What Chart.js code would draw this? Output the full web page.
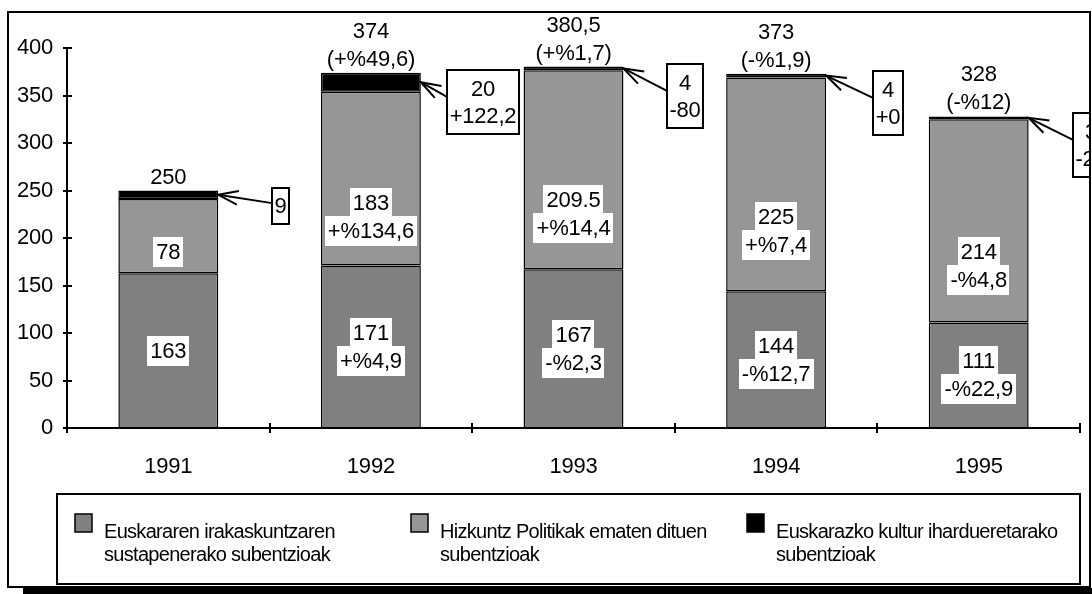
<!DOCTYPE html>
<html><head><meta charset="utf-8">
<script src="https://cdn.jsdelivr.net/npm/chart.js@4/dist/chart.umd.min.js"></script>
<style>html,body{margin:0;padding:0;background:#fff;overflow:hidden}canvas{display:block}</style>
</head><body>
<canvas id="c" width="1092" height="594"></canvas>
<script>
// ---- data ----
const years = ['1991', '1992', '1993', '1994', '1995'];
const irakaskuntza = [163, 171, 167, 144, 111];
const politika = [78, 183, 209.5, 225, 214];
const kultura = [9, 20, 4, 4, 3];
const totals = [250, 374, 380.5, 373, 328];
const irakaskuntzaChange = ['', '+%4,9', '-%2,3', '-%12,7', '-%22,9'];
const politikaChange = ['', '+%134,6', '+%14,4', '+%7,4', '-%4,8'];
const kulturaChange = ['', '+122,2', '-80', '+0', '-25'];
const totalChange = ['', '(+%49,6)', '(+%1,7)', '(-%1,9)', '(-%12)'];
const totalText = ['250', '374', '380,5', '373', '328'];
const seriesNames = [
  ['Euskararen irakaskuntzaren', 'sustapenerako subentzioak'],
  ['Hizkuntz Politikak ematen dituen', 'subentzioak'],
  ['Euskarazko kultur ihardueretarako', 'subentzioak']
];
const yMin = 0, yMax = 400, yStep = 50;

const COLORS = ['#808080', '#969696', '#000000'];
const FAM = '"Liberation Sans", Arial, sans-serif';
const FONT = '22px ' + FAM;

function setLS(ctx, v) { if ('letterSpacing' in ctx) ctx.letterSpacing = v; }

function drawLabelLines(ctx, lines, cx, cy, lh, bg) {
  const n = lines.length;
  ctx.font = FONT;
  ctx.textAlign = 'center';
  ctx.textBaseline = 'middle';
  const ys = lines.map((t, k) => cy + (k - (n - 1) / 2) * lh);
  if (bg) {
    ctx.fillStyle = '#fff';
    lines.forEach((t, k) => {
      const w = ctx.measureText(t).width;
      ctx.fillRect(Math.round(cx - w / 2 - 3), Math.round(ys[k] - 15), Math.round(w + 6), 30);
    });
  }
  ctx.fillStyle = '#000';
  lines.forEach((t, k) => ctx.fillText(t, cx, ys[k] + 1));
}

const decorPlugin = {
  id: 'decor',
  beforeDraw(chart) {
    const ctx = chart.ctx;
    setLS(ctx, '-0.2px');
    ctx.save();
    ctx.fillStyle = '#fff';
    ctx.fillRect(0, 0, chart.width, chart.height);
    ctx.restore();
  },
  afterDraw(chart) {
    const ctx = chart.ctx;
    const xs = chart.scales.x, ys = chart.scales.y;
    ctx.save();
    ctx.strokeStyle = '#000';
    ctx.lineWidth = 2;
    // y ticks crossing the axis
    const ax = xs.left;
    for (let v = yMin; v <= yMax; v += yStep) {
      const py = Math.round(ys.getPixelForValue(v));
      ctx.beginPath(); ctx.moveTo(ax - 4, py); ctx.lineTo(ax + 5, py); ctx.stroke();
    }
    // x ticks at category boundaries
    const ay = ys.bottom;
    for (let i = 0; i <= years.length; i++) {
      const px = Math.round(xs.getPixelForValue(i - 0.5));
      ctx.beginPath(); ctx.moveTo(px, ay - 5); ctx.lineTo(px, ay + 5); ctx.stroke();
    }

    // segment labels
    const m0 = chart.getDatasetMeta(0), m2 = chart.getDatasetMeta(2);
    for (let i = 0; i < years.length; i++) {
      const b0 = m0.data[i].getProps(['x', 'y', 'base'], true);
      const l0 = irakaskuntzaChange[i] ? [String(irakaskuntza[i]), irakaskuntzaChange[i]] : [String(irakaskuntza[i])];
      drawLabelLines(ctx, l0, b0.x, (b0.y + b0.base) / 2, 28, true);
      const l1 = politikaChange[i] ? [String(politika[i]), politikaChange[i]] : [String(politika[i])];
      const y1 = ys.getPixelForValue(irakaskuntza[i] + 0.28 * politika[i]);
      drawLabelLines(ctx, l1, b0.x, y1, 28, true);
      // totals above
      const b2 = m2.data[i].getProps(['x', 'y', 'base', 'width'], true);
      const lt = totalChange[i] ? [totalText[i], totalChange[i]] : [totalText[i]];
      const lastY = ys.getPixelForValue(totals[i]) - 14;
      drawLabelLines(ctx, lt, b2.x, lastY - (lt.length - 1) * 28 / 2, 28, false);
    }

    // callouts for the black series (clipped by outer frame)
    ctx.save();
    ctx.beginPath(); ctx.rect(9, 13, 1080, 573); ctx.clip();
    for (let i = 0; i < years.length; i++) {
      const b2 = m2.data[i].getProps(['x', 'y', 'base', 'width'], true);
      const right = b2.x + b2.width / 2;
      const segY = (b2.y + b2.base) / 2;
      const lines = kulturaChange[i] ? [String(kultura[i]), kulturaChange[i]] : [String(kultura[i])];
      ctx.font = FONT;
      const tw = Math.max(...lines.map(t => ctx.measureText(t).width));
      const bw = Math.round(tw + 5), bh = lines.length * 28 + 8;
      const bcx = right + 62;
      const bl = Math.round(bcx - bw / 2), bt = Math.round(b2.y - 3);
      const sy = bt + bh * 0.42;
      // arrow
      ctx.strokeStyle = '#000'; ctx.lineWidth = 2;
      ctx.beginPath(); ctx.moveTo(bl, sy); ctx.lineTo(right, segY); ctx.stroke();
      const ang = Math.atan2(sy - segY, bl - right);
      const L = 21, a = 0.33;
      ctx.beginPath();
      ctx.moveTo(right + L * Math.cos(ang + a), segY + L * Math.sin(ang + a));
      ctx.lineTo(right, segY);
      ctx.lineTo(right + L * Math.cos(ang - a), segY + L * Math.sin(ang - a));
      ctx.stroke();
      // box
      ctx.fillStyle = '#fff';
      ctx.fillRect(bl, bt, bw, bh);
      ctx.lineWidth = 2;
      ctx.strokeRect(bl, bt, bw, bh);
      drawLabelLines(ctx, lines, bl + bw / 2, bt + bh / 2, 27, false);
    }
    ctx.restore();

    // legend
    ctx.strokeStyle = '#000'; ctx.lineWidth = 2;
    ctx.strokeRect(57, 494, 1023, 90);
    const itemX = [75, 411, 747];
    for (let k = 0; k < 3; k++) {
      ctx.fillStyle = COLORS[k];
      ctx.fillRect(itemX[k], 514, 17, 18);
      ctx.lineWidth = 1.5;
      ctx.strokeRect(itemX[k], 514, 17, 18);
      ctx.font = '20px ' + FAM;
      setLS(ctx, '-0.7px');
      ctx.fillStyle = '#000';
      ctx.textAlign = 'left'; ctx.textBaseline = 'middle';
      seriesNames[k].forEach((t, j) => ctx.fillText(t, itemX[k] + 29, 532 + j * 23));
      setLS(ctx, '-0.2px');
    }

    // outer frame and shadow
    ctx.lineWidth = 2;
    ctx.strokeRect(8, 12, 1082, 575);
    ctx.fillStyle = '#000';
    ctx.fillRect(23, 588, 1069, 6);
    ctx.restore();
  }
};

Chart.defaults.font.family = FAM;
Chart.defaults.font.size = 22;
Chart.defaults.color = '#000';

new Chart(document.getElementById('c'), {
  type: 'bar',
  data: {
    labels: years,
    datasets: [
      { label: seriesNames[0].join(' '), data: irakaskuntza, backgroundColor: COLORS[0] },
      { label: seriesNames[1].join(' '), data: politika, backgroundColor: COLORS[1] },
      { label: seriesNames[2].join(' '), data: kultura, backgroundColor: COLORS[2] }
    ].map(d => Object.assign(d, { borderColor: '#000', borderWidth: 1.5, borderSkipped: false,
      categoryPercentage: 1, barPercentage: 0.493 }))
  },
  options: {
    responsive: false,
    animation: false,
    devicePixelRatio: 1,
    layout: { padding: { left: 0, top: 48, right: 12, bottom: 0 } },
    plugins: { legend: { display: false }, tooltip: { enabled: false } },
    scales: {
      x: {
        stacked: true,
        grid: { display: false, drawTicks: false },
        border: { display: true, color: '#000', width: 2 },
        ticks: { padding: 26, font: { size: 22 }, color: '#000' },
        afterFit(s) { s.height = 166; }
      },
      y: {
        stacked: true,
        min: yMin, max: yMax,
        grid: { display: false, drawTicks: false },
        border: { display: true, color: '#000', width: 2 },
        ticks: { stepSize: yStep, padding: 14, font: { size: 22 }, color: '#000' },
        afterFit(s) { s.width = 67; }
      }
    }
  },
  plugins: [decorPlugin]
});
</script>
</body></html>
